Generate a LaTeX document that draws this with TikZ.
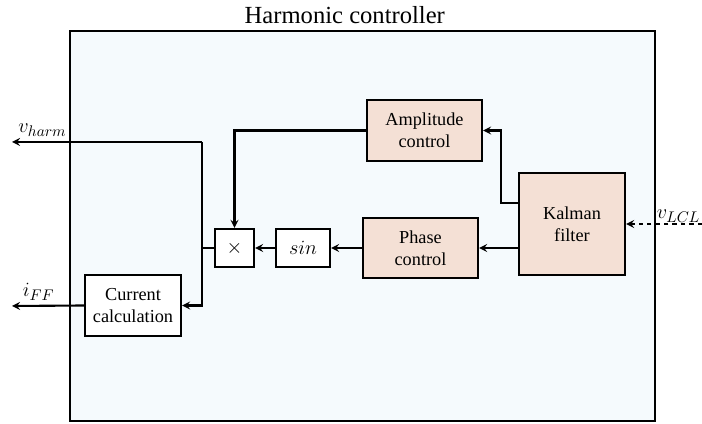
\documentclass[tikz,border=0pt]{standalone}
\usepackage{fontspec}
\setmainfont{Liberation Serif}
\usepackage{amsmath,amssymb}
\definecolor{ctrlbg}{RGB}{245,250,253}
\definecolor{blkfill}{RGB}{244,224,213}

\begin{document}
\begin{tikzpicture}[>=stealth,line width=1.5pt,blk/.style={draw,fill=blkfill,align=center,font=\fontsize{13}{15.5}\selectfont,inner sep=0pt},wbox/.style={blk,fill=white},lbl/.style={font=\fontsize{15}{18}\selectfont}]
\useasboundingbox (0,0) rectangle (17.55,10.6);
\node[draw,fill=ctrlbg,minimum width=14.625cm,minimum height=9.75cm,inner sep=0pt] (ctrl) at (9.0625,4.95) {};
\node[font=\fontsize{17.5}{20}\selectfont] (title) at (8.62,10.22) {Harmonic controller};
\node[blk,minimum width=2.875cm,minimum height=1.525cm] (amp) at (10.6125,7.3375) {Amplitude\\control};
\node[blk,minimum width=2.65cm,minimum height=2.55cm] (kal) at (14.3,5.0) {Kalman\\filter};
\node[blk,minimum width=2.875cm,minimum height=1.5cm] (phase) at (10.5125,4.4) {Phase\\control};
\node[wbox,lbl,minimum width=1.35cm,minimum height=0.95cm] (sin) at (7.575,4.4) {$sin$};
\node[wbox,lbl,minimum width=0.975cm,minimum height=0.95cm] (mul) at (5.8625,4.4) {$\times$};
\node[wbox,minimum width=2.4cm,minimum height=1.525cm] (cur) at (3.325,2.9625) {Current\\calculation};
\coordinate (vh) at (0.3,7.05);
\coordinate (iff) at (0.3,2.95);
\coordinate (vin) at (17.55,5.0);
\draw[->] (kal.west |- 0,5.525) -- (12.525,5.525) |- (amp.east);
\draw[->] (kal.west |- phase) -- (phase.east);
\draw[->] (phase) -- (sin);
\draw[->] (sin) -- (mul);
\draw[->] (amp.west) -| (mul.north);
\draw (mul.west) -- (5.05,4.4);
\draw[->] (5.05,7.05) -- node[pos=0.84,above,lbl]{$v_{harm}$} (vh);
\draw[->] (5.05,7.05) |- (cur.east);
\draw[->] (cur.west) -- node[pos=0.63,above,lbl]{$i_{FF}$} (iff);
\draw[->,dashed] (vin) -- node[pos=0.31,above,yshift=-3pt,lbl]{$v_{LCL}$} (kal.east);
\end{tikzpicture}
\end{document}
